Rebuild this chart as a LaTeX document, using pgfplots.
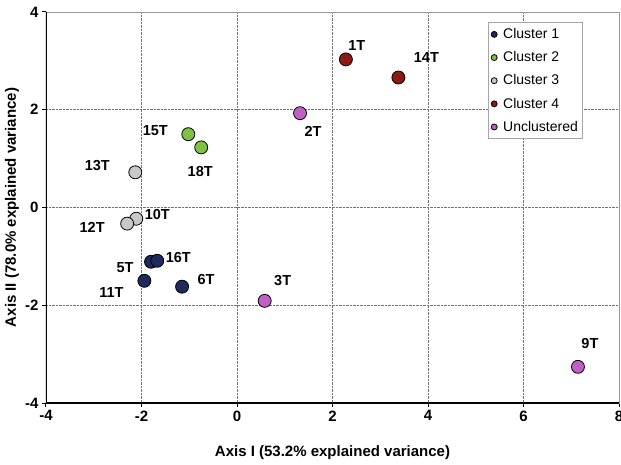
\documentclass[border=0pt]{standalone}
\usepackage{pgfplots}
\pgfplotsset{compat=1.18}
\usepackage{fontspec}
\setmainfont{Liberation Sans}
\definecolor{cA}{HTML}{1F2A5C}
\definecolor{cB}{HTML}{7DC242}
\definecolor{cC}{HTML}{C8C8C8}
\definecolor{cD}{HTML}{8B1A14}
\definecolor{cE}{HTML}{C060C4}
\pgfplotstableread{
x y lab dx dy
-1.80 -1.11 5T -26 -6
-1.67 -1.09 16T 21 3
-1.94 -1.50 11T -33 -12
-1.15 -1.62 6T 24 7
}\clA
\pgfplotstableread{
x y lab dx dy
-1.02 1.50 15T -33 4
-0.75 1.23 18T -1 -24
}\clB
\pgfplotstableread{
x y lab dx dy
-2.13 0.72 13T -38 7
-2.11 -0.23 10T 21 4
-2.30 -0.33 12T -35 -4
}\clC
\pgfplotstableread{
x y lab dx dy
2.28 3.03 1T 11 14
3.38 2.66 14T 28 20
}\clD
\pgfplotstableread{
x y lab dx dy
1.32 1.93 2T 13 -18
0.58 -1.91 3T 18 20
7.14 -3.26 9T 12 23
}\clE
\pgfplotsset{lbl/.style={only marks, mark=*, mark size=6.5pt, line width=0.8pt,
    nodes near coords={\pgfplotspointmeta}, point meta=explicit symbolic,
    visualization depends on={\thisrow{dx} \as \dx},
    visualization depends on={\thisrow{dy} \as \dy},
    nodes near coords style={anchor=center, xshift=\dx pt, yshift=\dy pt, font=\fontsize{14.5}{16}\selectfont\bfseries, text=black}}}
\begin{document}
\begin{tikzpicture}
\begin{axis}[
  scale only axis, width=573pt, height=391pt,
  xmin=-4, xmax=8, ymin=-4, ymax=4,
  xtick={-4,-2,...,8}, ytick={-4,-2,...,4},
  grid=major, major grid style={densely dotted, black!55, line width=0.6pt},
  axis line style={black!40, line width=0.6pt},
  tick pos=left, tick align=outside, major tick length=4pt,
  tick style={black, line width=1pt},
  ticklabel style={font=\fontsize{15}{17}\selectfont\bfseries},
  /pgf/number format/assume math mode=true,
  xlabel={Axis I (53.2\% explained variance)},
  ylabel={Axis II (78.0\% explained variance)},
  xlabel style={font=\fontsize{15}{17}\selectfont\bfseries, at={(axis description cs:0.5,-0.128)}, anchor=center},
  ylabel style={font=\fontsize{15}{17}\selectfont\bfseries, at={(axis description cs:-0.0593,0.5)}, anchor=center},
  legend style={at={(rel axis cs:0.771,0.974)}, anchor=north west, draw=black!35, line width=0.8pt,
    font=\fontsize{14}{16}\selectfont, row sep=7.5pt, column sep=4pt, inner xsep=3pt, inner ysep=4pt},
  legend cell align=left,
  legend image post style={mark size=3pt},
]
\addplot[lbl, draw=black, fill=cA] table[x=x, y=y, meta=lab] {\clA};
\addlegendentry{Cluster 1}
\addplot[lbl, draw=black, fill=cB] table[x=x, y=y, meta=lab] {\clB};
\addlegendentry{Cluster 2}
\addplot[lbl, draw=black, fill=cC] table[x=x, y=y, meta=lab] {\clC};
\addlegendentry{Cluster 3}
\addplot[lbl, draw=black, fill=cD] table[x=x, y=y, meta=lab] {\clD};
\addlegendentry{Cluster 4}
\addplot[lbl, draw=black, fill=cE] table[x=x, y=y, meta=lab] {\clE};
\addlegendentry{Unclustered}
\draw[black, line width=1.5pt] (rel axis cs:0,1) -- (rel axis cs:0,0) -- (rel axis cs:1,0);
\end{axis}
\pgfresetboundingbox
\useasboundingbox ([xshift=-46pt, yshift=-61pt]current axis.south west) rectangle ([xshift=2pt, yshift=12pt]current axis.north east);
\end{tikzpicture}
\end{document}
